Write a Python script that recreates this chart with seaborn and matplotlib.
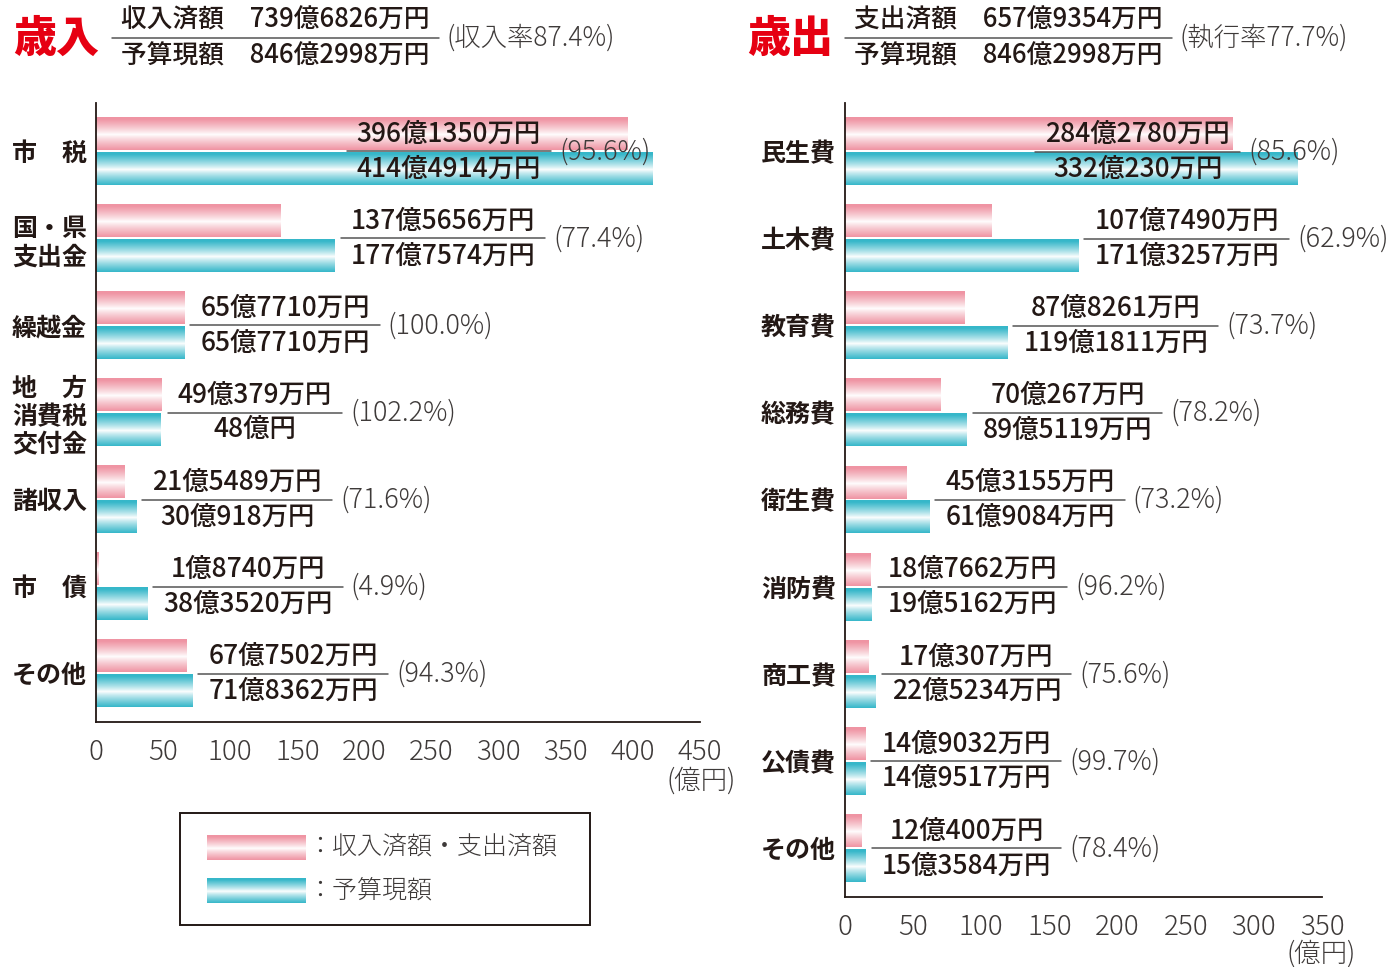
import numpy as np
import pandas as pd
import matplotlib
matplotlib.use("Agg")
import matplotlib.pyplot as plt
import seaborn as sns
from matplotlib.colors import to_rgb
from matplotlib.patches import Rectangle

# ---------------- data (万円) ----------------
rev_cats = ["市　税", "国・県\n支出金", "繰越金", "地　方\n消費税\n交付金", "諸収入", "市　債", "その他"]
rev_actual = [3961350, 1375656, 657710, 490379, 215489, 18740, 677502]
rev_budget = [4144914, 1777574, 657710, 480000, 300918, 383520, 718362]

exp_cats = ["民生費", "土木費", "教育費", "総務費", "衛生費", "消防費", "商工費", "公債費", "その他"]
exp_actual = [2842780, 1077490, 878261, 700267, 453155, 187662, 170307, 149032, 120400]
exp_budget = [3320230, 1713257, 1191811, 895119, 619084, 195162, 225234, 149517, 153584]

rev_total = (7396826, 8462998)
exp_total = (6579354, 8462998)

rev_ticks = [0, 50, 100, 150, 200, 250, 300, 350, 400, 450]
exp_ticks = [0, 50, 100, 150, 200, 250, 300, 350]

series_names = ["収入済額・支出済額", "予算現額"]

# ---------------- style ----------------
W, H, DPI = 1392, 967, 100
PINK = "#ef94a3"
BLUE = "#36b7c9"
INK = "#231815"
GRAY = "#3e3a39"
RED = "#e60012"
FAM = ["Noto Sans CJK JP", "DejaVu Sans"]

sns.set_style("white")
plt.rcParams["font.family"] = FAM

fig = plt.figure(figsize=(W / DPI, H / DPI), dpi=DPI)


def fx(px):
    return px / W


def fy(py):
    return 1 - py / H


def yen(v):
    oku, man = divmod(v, 10000)
    return f"{oku}億{man}万円" if man else f"{oku}億円"


def grad(color, n=96):
    t = np.linspace(0, 1, n)
    f = np.clip(np.abs(t - 0.53) / 0.47, 0, 1) ** 0.85
    c = np.array(to_rgb(color))
    rgb = 1 - f[:, None] * (1 - c)
    return rgb[:, None, :]


renderer = fig.canvas.get_renderer()


def panel(rect, cats, actual, budget, xmax, ticks, inside_end):
    ax = fig.add_axes(rect)
    n = len(cats)
    df = pd.DataFrame({
        "cat": cats * 2,
        "val": [a / 10000 for a in actual] + [b / 10000 for b in budget],
        "kind": [series_names[0]] * n + [series_names[1]] * n,
    })
    sns.barplot(data=df, x="val", y="cat", hue="kind", orient="h",
                palette=[PINK, BLUE], width=0.8, gap=0.08, legend=False,
                saturation=1, errorbar=None, ax=ax)
    pink_rgb = np.array(to_rgb(PINK))
    for p in list(ax.patches):
        x0, y0, w, h = p.get_x(), p.get_y(), p.get_width(), p.get_height()
        fc = np.array(p.get_facecolor()[:3])
        col = PINK if np.allclose(fc, pink_rgb, atol=0.02) else BLUE
        ax.imshow(grad(col), extent=(x0, x0 + w, y0 + h, y0), aspect="auto",
                  interpolation="bilinear", zorder=2)
        p.set_visible(False)
    ax.set_xlim(0, xmax)
    ax.set_ylim(n - 1 + 0.557, -0.557)
    ax.set_xlabel("")
    ax.set_ylabel("")
    for s in ["top", "right"]:
        ax.spines[s].set_visible(False)
    for s in ["left", "bottom"]:
        ax.spines[s].set_color(INK)
        ax.spines[s].set_linewidth(1.3)
    ax.set_xticks(ticks)
    ax.set_xticklabels([str(t) for t in ticks])
    ax.tick_params(axis="x", length=8.5, width=1.1, color=INK, pad=3,
                   labelsize=20, labelcolor=GRAY)
    for lab in ax.get_xticklabels():
        lab.set_fontweight("light")
    ax.tick_params(axis="y", length=0, pad=6.5, labelsize=18, labelcolor=INK)
    for lab in ax.get_yticklabels():
        lab.set_fontweight("bold")
        lab.set_linespacing(1.22)
    ax.grid(False)

    inv = ax.transData.inverted()
    for i in range(n):
        a, b = actual[i] / 10000, budget[i] / 10000
        t1 = ax.text(0, i - 0.2, yen(actual[i]), ha="center", va="center",
                     fontsize=19, fontweight="medium", color=INK, zorder=5)
        t2 = ax.text(0, i + 0.2, yen(budget[i]), ha="center", va="center",
                     fontsize=19, fontweight="medium", color=INK, zorder=5)
        w1 = t1.get_window_extent(renderer).width
        w2 = t2.get_window_extent(renderer).width
        L = max(w1, w2) + 20
        if i in inside_end:
            end_px = ax.transData.transform((inside_end[i], 0))[0]
            start_px = end_px - L
        else:
            start_px = ax.transData.transform((max(a, b), 0))[0] + 6
            end_px = start_px + L
        sx = inv.transform((start_px, 0))[0]
        ex = inv.transform((end_px, 0))[0]
        cx = inv.transform(((start_px + end_px) / 2, 0))[0]
        px_ = inv.transform((end_px + 8, 0))[0]
        t1.set_x(cx)
        t2.set_x(cx)
        ax.plot([sx, ex], [i, i], color="#555555", lw=1.1, clip_on=False, zorder=5)
        ax.text(px_, i, f"({actual[i] / budget[i] * 100:.1f}%)", ha="left",
                va="center", fontsize=19.5, fontweight="light", color=GRAY,
                zorder=5, clip_on=False)
    return ax


ax1 = panel([fx(96), fy(722), fx(700) - fx(96), (722 - 103) / H],
            rev_cats, rev_actual, rev_budget, 450, rev_ticks, {0: 339})
ax2 = panel([fx(845), fy(897), fx(1322) - fx(845), (897 - 103) / H],
            exp_cats, exp_actual, exp_budget, 350, exp_ticks, {0: 290})

fig.text(fx(701), fy(781), "(億円)", ha="center", va="center", fontsize=19,
         fontweight="light", color=GRAY)
fig.text(fx(1321), fy(954), "(億円)", ha="center", va="center", fontsize=19,
         fontweight="light", color=GRAY)


# ---------------- headers ----------------
def header(x_title, title, x_line, lab1, lab2, tot, rate_name):
    fig.text(fx(x_title), fy(39), title, ha="left", va="center", fontsize=31,
             fontweight="black", color=RED)
    s1 = f"{lab1}　{yen(tot[0])}"
    s2 = f"{lab2}　{yen(tot[1])}"
    t1 = fig.text(0, fy(20), s1, ha="center", va="center", fontsize=18.5,
                  fontweight="medium", color=INK)
    t2 = fig.text(0, fy(56), s2, ha="center", va="center", fontsize=18.5,
                  fontweight="medium", color=INK)
    L = max(t1.get_window_extent(renderer).width,
            t2.get_window_extent(renderer).width) + 18
    t1.set_x(fx(x_line + L / 2))
    t2.set_x(fx(x_line + L / 2))
    fig.add_artist(plt.Line2D([fx(x_line), fx(x_line + L)], [fy(38), fy(38)],
                              color="#555555", lw=1.1))
    fig.text(fx(x_line + L + 8), fy(38),
             f"({rate_name}{tot[0] / tot[1] * 100:.1f}%)", ha="left",
             va="center", fontsize=19, fontweight="light", color=GRAY)


header(13, "歳入", 112, "収入済額", "予算現額", rev_total, "収入率")
header(747, "歳出", 845, "支出済額", "予算現額", exp_total, "執行率")

# ---------------- legend ----------------
lx0, ly0, lw_, lh_ = 180, 813, 410, 112
axl = fig.add_axes([fx(lx0), fy(ly0 + lh_), lw_ / W, lh_ / H])
axl.set_xlim(0, lw_)
axl.set_ylim(lh_, 0)
axl.axis("off")
axl.add_patch(Rectangle((0, 0), lw_, lh_, fill=False, edgecolor=INK, lw=1.4,
                        clip_on=False))
for k, (col, name) in enumerate(zip([PINK, BLUE], series_names)):
    y0 = 22 + k * 43
    axl.imshow(grad(col), extent=(27, 126, y0 + 25, y0), aspect="auto",
               interpolation="bilinear")
    axl.text(127, y0 + 12.5, "：" + name, ha="left", va="center", fontsize=18,
             fontweight="light", color=GRAY)
axl.set_xlim(0, lw_)
axl.set_ylim(lh_, 0)

fig.savefig("out.png", dpi=DPI)
